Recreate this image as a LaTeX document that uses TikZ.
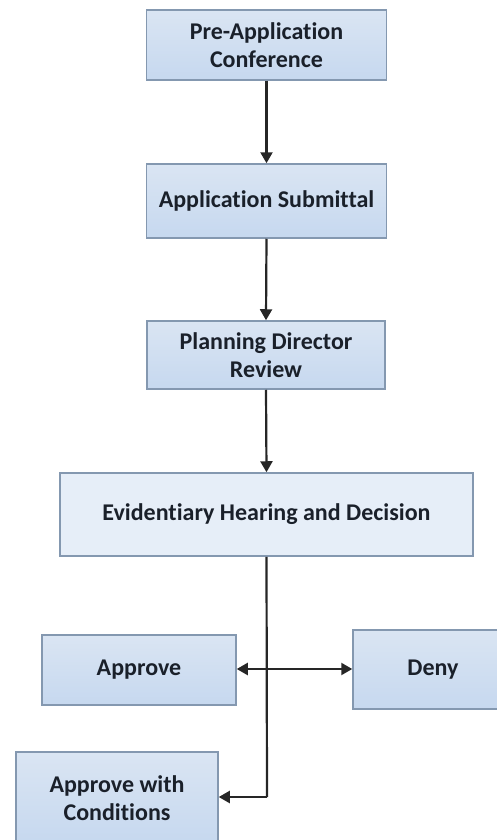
\documentclass[tikz,border=0pt]{standalone}
\usepackage{fontspec}
\setmainfont{Carlito}[Ligatures=NoCommon]
\usetikzlibrary{arrows.meta}
\definecolor{boxfill}{HTML}{C6D8EF}
\definecolor{boxfilltop}{HTML}{DAE5F3}
\definecolor{lightfill}{HTML}{E6EEF8}
\definecolor{boxline}{HTML}{8498B0}
\definecolor{txt}{HTML}{1A202A}
\tikzset{
  stepbox/.style={draw=boxline, line width=1.5pt, top color=boxfilltop, bottom color=boxfill,
    align=center, font=\fontsize{24}{28}\selectfont\bfseries, text=txt, inner sep=0pt},
  lightbox/.style={stepbox, top color=lightfill, bottom color=lightfill},
  conn/.style={line width=2.2pt, draw=black!85, -{Triangle[length=11pt,width=12pt]}},
  plain/.style={line width=2.2pt, draw=black!85}
}
\begin{document}
\begin{tikzpicture}[x=1pt,y=-1pt]
\useasboundingbox (0,0) rectangle (497,840);
\node[stepbox, minimum width=240pt, minimum height=70pt] (pre) at (266.5,45) {Pre-Application\\Conference};
\node[stepbox, minimum width=240pt, minimum height=74pt] (sub) at (266.5,201) {Application Submittal};
\node[stepbox, minimum width=238pt, minimum height=68pt] (pdr) at (266,355) {Planning Director\\Review};
\node[lightbox, minimum width=413pt, minimum height=83pt] (hear) at (266.5,514.5) {Evidentiary Hearing and Decision};
\node[stepbox, minimum width=194pt, minimum height=70pt] (app) at (139,670) {Approve};
\node[stepbox, minimum width=160pt, minimum height=79pt] (deny) at (433,669.5) {Deny};
\node[stepbox, minimum width=202pt, minimum height=92pt] (awc) at (117,798) {Approve with\\Conditions};
\coordinate (split) at (267,669);
\coordinate (corner) at (267,797);
\draw[conn] (pre.south) -- (sub.north);
\draw[conn] (sub.south) -- (pdr.north);
\draw[conn] (pdr.south) -- (hear.north);
\draw[plain] (hear.south) -- (corner);
\draw[conn] (split) -- (app.east |- split);
\draw[conn] (split) -- (deny.west |- split);
\draw[conn] (corner) -- (awc.east |- corner);
\end{tikzpicture}
\end{document}
